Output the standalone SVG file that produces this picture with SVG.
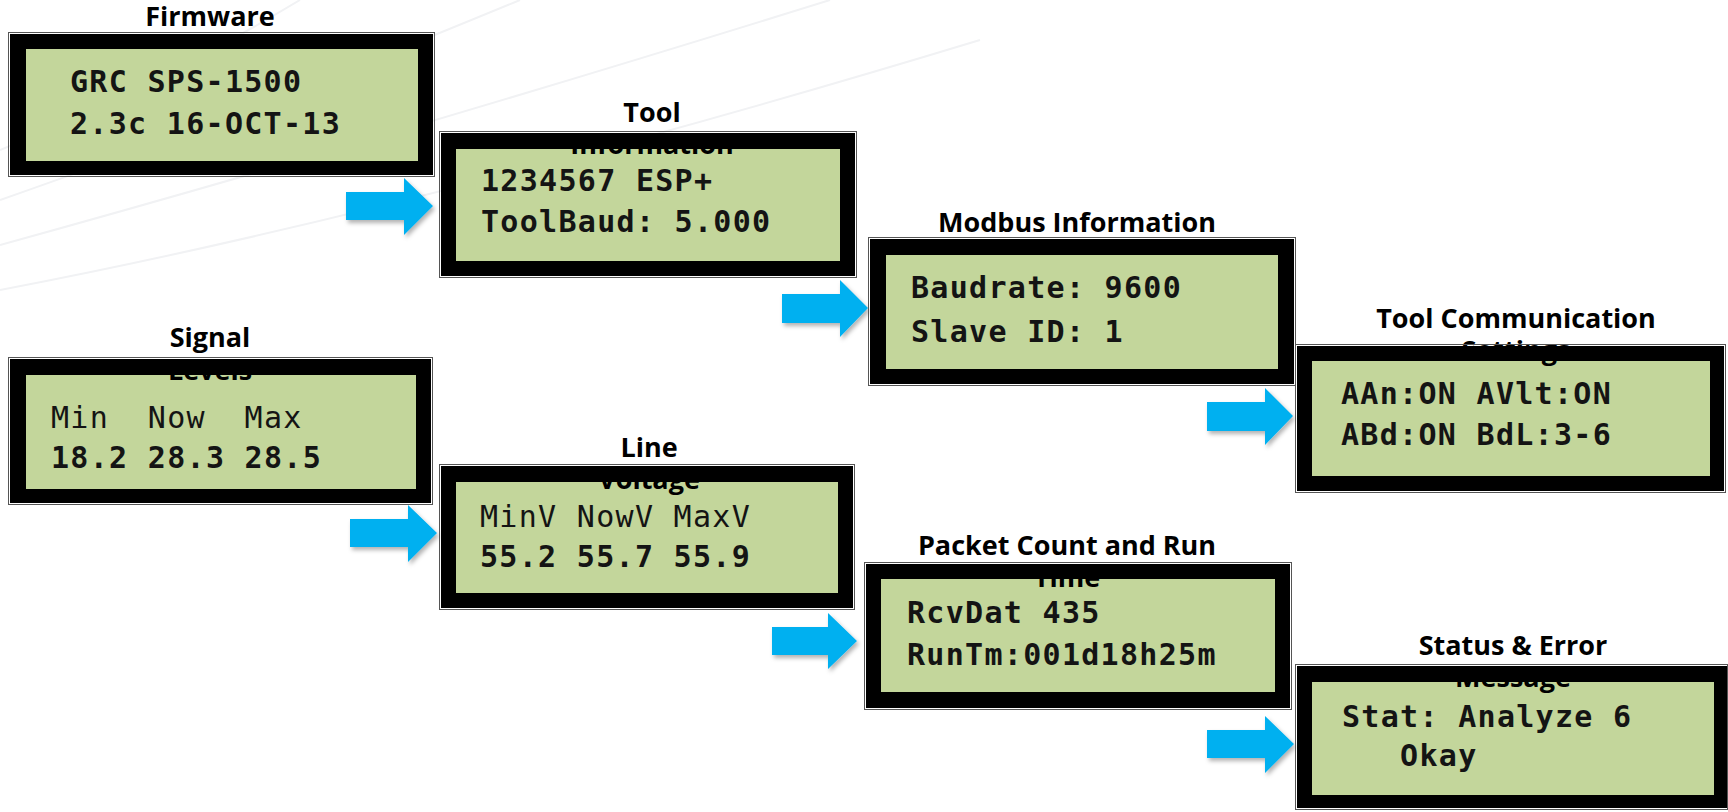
<svg xmlns="http://www.w3.org/2000/svg" width="1728" height="812" viewBox="0 0 1728 812">
<defs>
<style>
.bg{fill:none;stroke:#f1f2f4;stroke-width:2}
.lcd{fill:#C3D69B}
.frame{fill:#000;fill-rule:evenodd}
.edge{fill:none;stroke:#555;stroke-width:1}
.title{font-family:"Open Sans","Liberation Sans",sans-serif;font-weight:700;font-size:27px;fill:#000;text-anchor:middle}
.mono{font-family:"DejaVu Sans Mono","Liberation Mono",monospace;font-weight:700;font-size:30px;letter-spacing:1.3px;fill:#141414}
.thin{font-weight:400}
.arrow{fill:#00B0F0;filter:url(#sh)}
</style>
<filter id="sh" x="-20%" y="-20%" width="150%" height="160%">
<feDropShadow dx="2" dy="3" stdDeviation="2" flood-color="#000" flood-opacity="0.3"/>
</filter>
</defs>
<rect width="1728" height="812" fill="#fff"/>
<g id="background">
<path class="bg" d="M0,200 Q230,120 520,0"/>
<path class="bg" d="M0,245 Q380,140 830,0"/>
<path class="bg" d="M0,290 Q420,210 980,40"/>
<path class="bg" d="M0,150 Q150,90 300,0"/>
</g>
<g id="connectors">
<polygon class="arrow" points="346,192 404,192 404,178 433,206 404,235 404,220 346,220"/>
<polygon class="arrow" points="782,294 840,294 840,280 868,308 840,337 840,323 782,323"/>
<polygon class="arrow" points="1207,402 1265,402 1265,388 1293,416 1265,445 1265,431 1207,431"/>
<polygon class="arrow" points="350,519 408,519 408,505 437,533 408,562 408,547 350,547"/>
<polygon class="arrow" points="772,627 828,627 828,613 857,641 828,669 828,655 772,655"/>
<polygon class="arrow" points="1207,730 1265,730 1265,716 1294,744 1265,773 1265,758 1207,758"/>
</g>
<g id="firmware">
<rect class="lcd" x="26" y="49" width="392" height="112"/>
<text class="title" x="210" y="26">Firmware</text>
<path class="frame" d="M10,34H433V175H10Z M26,49V161H418V49Z"/>
<rect class="edge" x="8.5" y="32.5" width="426" height="144"/>
<text class="mono" x="70" y="92">GRC SPS-1500</text>
<text class="mono" x="70" y="134">2.3c 16-OCT-13</text>
</g>
<g id="tool-information">
<rect class="lcd" x="456" y="149" width="384" height="112"/>
<text class="title" x="652" y="122">Tool</text>
<text class="title" x="652" y="154">Information</text>
<path class="frame" d="M441,133H855V276H441Z M456,149V261H840V149Z"/>
<rect class="edge" x="439.5" y="131.5" width="417" height="146"/>
<text class="mono" x="481" y="191">1234567 ESP+</text>
<text class="mono" x="481" y="232">ToolBaud: 5.000</text>
</g>
<g id="modbus-information">
<rect class="lcd" x="886" y="255" width="392" height="114"/>
<text class="title" x="1077" y="232">Modbus Information</text>
<path class="frame" d="M870,239H1294V384H870Z M886,255V369H1278V255Z"/>
<rect class="edge" x="868.5" y="237.5" width="427" height="148"/>
<text class="mono" x="911" y="298">Baudrate: 9600</text>
<text class="mono" x="911" y="342">Slave ID: 1</text>
</g>
<g id="tool-communication-settings">
<rect class="lcd" x="1312" y="361" width="398" height="115"/>
<text class="title" x="1516" y="328">Tool Communication</text>
<text class="title" x="1516" y="360">Settings</text>
<path class="frame" d="M1297,346H1724V491H1297Z M1312,361V476H1710V361Z"/>
<rect class="edge" x="1295.5" y="344.5" width="430" height="148"/>
<text class="mono" x="1341" y="404">AAn:ON AVlt:ON</text>
<text class="mono" x="1341" y="445">ABd:ON BdL:3-6</text>
</g>
<g id="signal-levels">
<rect class="lcd" x="26" y="375" width="390" height="114"/>
<text class="title" x="210" y="347">Signal</text>
<text class="title" x="210" y="380">Levels</text>
<path class="frame" d="M10,359H431V503H10Z M26,375V489H416V375Z"/>
<rect class="edge" x="8.5" y="357.5" width="424" height="147"/>
<text class="mono thin" x="51" y="428" xml:space="preserve">Min  Now  Max</text>
<text class="mono" x="51" y="468">18.2 28.3 28.5</text>
</g>
<g id="line-voltage">
<rect class="lcd" x="456" y="482" width="382" height="111"/>
<text class="title" x="649" y="457">Line</text>
<text class="title" x="649" y="489">Voltage</text>
<path class="frame" d="M441,466H853V608H441Z M456,482V593H838V482Z"/>
<rect class="edge" x="439.5" y="464.5" width="415" height="145"/>
<text class="mono thin" x="480" y="527">MinV NowV MaxV</text>
<text class="mono" x="480" y="567">55.2 55.7 55.9</text>
</g>
<g id="packet-count-run-time">
<rect class="lcd" x="881" y="579" width="394" height="113"/>
<text class="title" x="1067" y="555">Packet Count and Run</text>
<text class="title" x="1067" y="587">Time</text>
<path class="frame" d="M866,564H1290V708H866Z M881,579V692H1275V579Z"/>
<rect class="edge" x="864.5" y="562.5" width="427" height="147"/>
<text class="mono" x="907" y="623">RcvDat 435</text>
<text class="mono" x="907" y="665">RunTm:001d18h25m</text>
</g>
<g id="status-error-message">
<rect class="lcd" x="1312" y="682" width="402" height="113"/>
<text class="title" x="1513" y="655">Status &amp; Error</text>
<text class="title" x="1513" y="687">Message</text>
<path class="frame" d="M1297,666H1728V808H1297Z M1312,682V795H1714V682Z"/>
<rect class="edge" x="1295.5" y="664.5" width="432" height="145"/>
<text class="mono" x="1342" y="727">Stat: Analyze 6</text>
<text class="mono" x="1342" y="766" xml:space="preserve">   Okay</text>
</g>
</svg>
